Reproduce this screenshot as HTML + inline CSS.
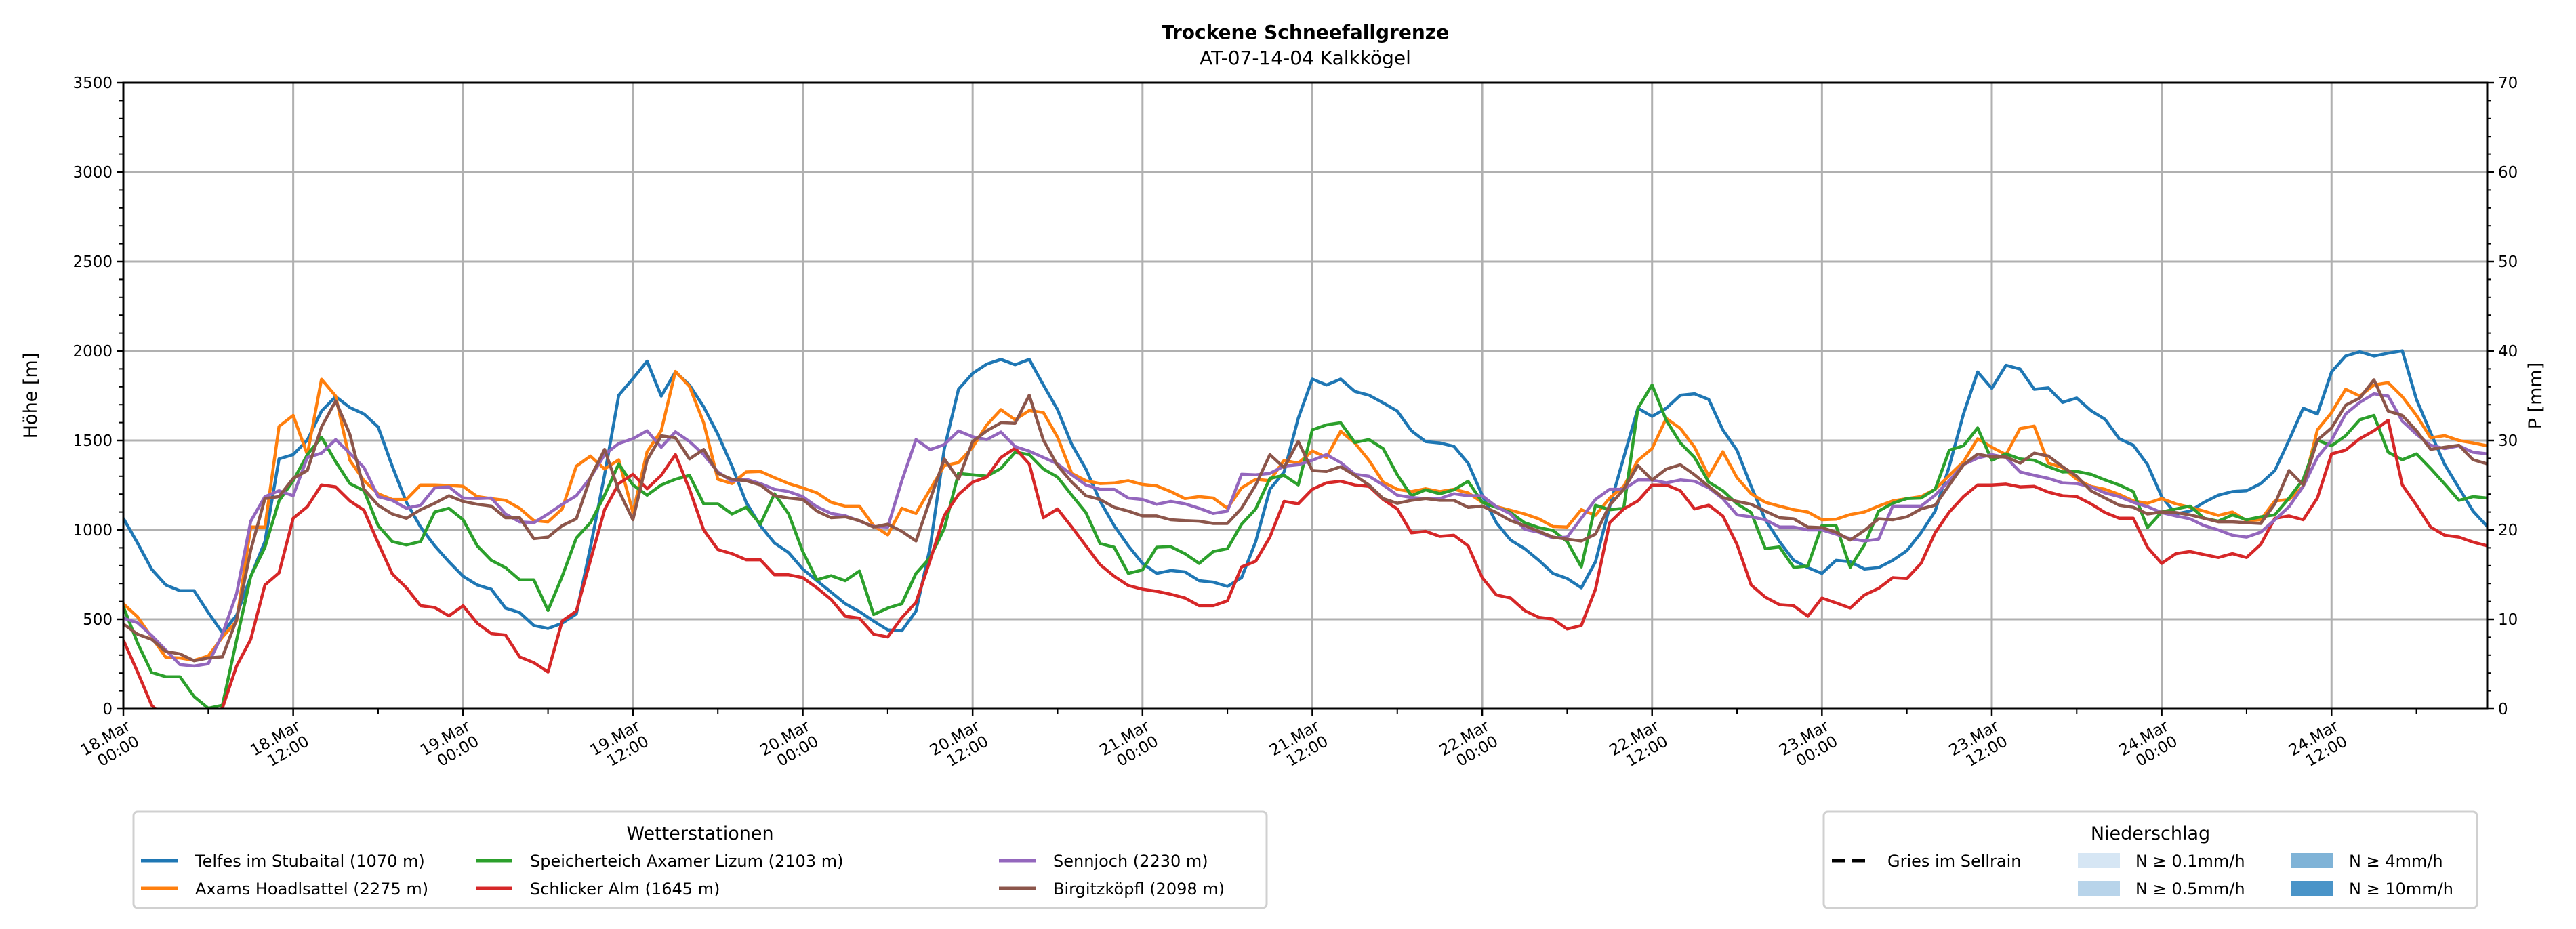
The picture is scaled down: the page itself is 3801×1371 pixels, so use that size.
<!DOCTYPE html>
<html><head><meta charset="utf-8"><style>
html,body{margin:0;padding:0;background:#fff}
svg{display:block;font-family:"DejaVu Sans","Liberation Sans",sans-serif}
</style></head><body>
<svg id="chart" width="3801" height="1371" viewBox="0 0 3801 1371" xmlns="http://www.w3.org/2000/svg">
<rect x="0" y="0" width="3801" height="1371" fill="#fff"/>
<text x="1926" y="57" font-size="28" font-weight="bold" text-anchor="middle">Trockene Schneefallgrenze</text>
<text x="1926" y="95" font-size="28" text-anchor="middle">AT-07-14-04 Kalkkögel</text>
<g id="grid"></g>
<g id="series"></g>
<g id="axes"></g>
<text transform="translate(54,584) rotate(-90)" font-size="27" text-anchor="middle">Höhe [m]</text>
<text transform="translate(3750,584) rotate(-90)" font-size="27" text-anchor="middle">P [mm]</text>

<g>
<rect x="197" y="1198" width="1672" height="142" rx="6" fill="#fff" stroke="#d0d0d0" stroke-width="3"/>
<text x="1033" y="1239" font-size="27" text-anchor="middle">Wetterstationen</text>
<g><line x1="208" y1="1270" x2="262" y2="1270" stroke="#1f77b4" stroke-width="5"/><text x="288" y="1279" font-size="24">Telfes im Stubaital (1070 m)</text></g>
<g><line x1="208" y1="1311" x2="262" y2="1311" stroke="#ff7f0e" stroke-width="5"/><text x="288" y="1320" font-size="24">Axams Hoadlsattel (2275 m)</text></g>
<g><line x1="703" y1="1270" x2="756" y2="1270" stroke="#2ca02c" stroke-width="5"/><text x="782" y="1279" font-size="24">Speicherteich Axamer Lizum (2103 m)</text></g>
<g><line x1="703" y1="1311" x2="756" y2="1311" stroke="#d62728" stroke-width="5"/><text x="782" y="1320" font-size="24">Schlicker Alm (1645 m)</text></g>
<g><line x1="1474" y1="1270" x2="1528" y2="1270" stroke="#9467bd" stroke-width="5"/><text x="1554" y="1279" font-size="24">Sennjoch (2230 m)</text></g>
<g><line x1="1474" y1="1311" x2="1528" y2="1311" stroke="#8c564b" stroke-width="5"/><text x="1554" y="1320" font-size="24">Birgitzköpfl (2098 m)</text></g>
</g>

<g>
<rect x="2691" y="1198" width="964" height="142" rx="6" fill="#fff" stroke="#d0d0d0" stroke-width="3"/>
<text x="3173" y="1239" font-size="27" text-anchor="middle">Niederschlag</text>
<g><line x1="2703" y1="1270" x2="2760" y2="1270" stroke="#000" stroke-width="5" stroke-dasharray="20,9"/><text x="2785" y="1279" font-size="24">Gries im Sellrain</text></g>
<g><rect x="3066" y="1259" width="62" height="22" fill="#d6e6f4"/><text x="3151" y="1279" font-size="24">N ≥ 0.1mm/h</text></g>
<g><rect x="3066" y="1300" width="62" height="22" fill="#b8d4ea"/><text x="3151" y="1320" font-size="24">N ≥ 0.5mm/h</text></g>
<g><rect x="3381" y="1259" width="62" height="22" fill="#7fb3d7"/><text x="3466" y="1279" font-size="24">N ≥ 4mm/h</text></g>
<g><rect x="3381" y="1300" width="62" height="22" fill="#4a94c8"/><text x="3466" y="1320" font-size="24">N ≥ 10mm/h</text></g>
</g>
</svg>
<script>
const xTickDays = ["18.Mar","18.Mar","19.Mar","19.Mar","20.Mar","20.Mar","21.Mar","21.Mar","22.Mar","22.Mar","23.Mar","23.Mar","24.Mar","24.Mar"];
const xTickTimes = ["00:00","12:00","00:00","12:00","00:00","12:00","00:00","12:00","00:00","12:00","00:00","12:00","00:00","12:00"];
const yTicks = [0,500,1000,1500,2000,2500,3000,3500];
const y2Ticks = [0,10,20,30,40,50,60,70];
const seriesNames = ["telfes","axams","speicherteich","schlicker","sennjoch","birgitzkoepfl"];
const seriesColors = ["#1f77b4","#ff7f0e","#2ca02c","#d62728","#9467bd","#8c564b"];
const telfes = [1065,927,780,692,660,660,538,425,522,740,935,1397,1421,1502,1664,1745,1684,1648,1575,1356,1154,1016,911,822,741,692,668,563,538,465,449,478,530,903,1308,1753,1846,1943,1748,1883,1810,1688,
1535,1356,1154,1024,927,873,781,716,652,587,543,490,441,436,546,903,1454,1786,1875,1927,1953,1923,1953,1810,1672,1478,1340,1162,1024,911,813,757,773,765,716,708,684,733,935,1227,1324,1624,
1843,1810,1843,1774,1753,1710,1664,1554,1494,1486,1467,1373,1194,1040,943,895,830,757,728,676,822,1130,1405,1680,1635,1680,1753,1761,1729,1559,1445,1243,1057,935,830,789,757,830,822,781,789,
830,884,984,1105,1356,1648,1883,1791,1920,1899,1786,1794,1713,1737,1667,1618,1510,1473,1365,1186,1089,1105,1154,1194,1214,1219,1259,1332,1502,1680,1648,1883,1972,1996,1972,1988,2001,1729,1543,1365,1235,1105,1019];
const axams = [587,514,400,287,284,271,295,400,490,1016,1016,1578,1640,1421,1842,1748,1389,1275,1202,1170,1170,1251,1251,1248,1243,1186,1175,1165,1121,1052,1045,1117,1356,1413,1340,1392,1097,1437,1554,1886,1802,1599,
1283,1259,1324,1327,1292,1259,1235,1207,1154,1133,1133,1024,972,1121,1092,1227,1360,1376,1462,1587,1672,1616,1667,1656,1518,1316,1275,1259,1262,1275,1254,1246,1214,1175,1186,1178,1121,1235,1283,1275,1389,1373,
1441,1405,1551,1486,1389,1267,1227,1214,1230,1214,1227,1207,1154,1130,1110,1089,1062,1019,1016,1113,1081,1178,1243,1389,1454,1624,1567,1462,1300,1437,1292,1202,1154,1133,1113,1100,1057,1060,1086,1100,1133,
1162,1175,1186,1227,1305,1381,1510,1462,1421,1567,1580,1373,1348,1283,1243,1227,1198,1162,1149,1175,1146,1126,1105,1081,1100,1052,1057,1162,1170,1243,1559,1656,1786,1748,1810,1823,1745,1640,1515,1527,1500,1486,1470];
const speicherteich = [571,368,203,179,179,68,3,20,384,740,903,1162,1275,1421,1518,1381,1259,1219,1024,935,916,935,1100,1121,1057,911,830,789,721,721,550,740,955,1040,1194,1369,1251,1194,1251,1283,1305,1146,
1146,1089,1126,1032,1202,1089,879,721,744,716,770,527,563,587,757,846,1008,1316,1308,1300,1343,1434,1421,1340,1295,1194,1097,924,903,757,776,903,906,867,813,879,895,1032,1117,1288,1305,1251,
1559,1587,1599,1489,1505,1454,1308,1191,1224,1202,1224,1272,1154,1126,1097,1040,1013,997,935,793,1138,1113,1121,1680,1810,1613,1486,1405,1267,1219,1146,1097,895,905,791,798,1024,1024,791,916,1105,
1149,1175,1178,1227,1446,1470,1570,1389,1425,1397,1389,1353,1324,1327,1311,1279,1251,1214,1013,1100,1117,1133,1065,1049,1084,1057,1073,1084,1178,1283,1502,1470,1527,1616,1640,1434,1392,1425,1343,1256,1165,1186,1178];
const schlicker = [384,206,20,-60,-60,-60,-60,4,239,388,692,760,1065,1130,1251,1240,1162,1110,927,754,676,576,566,519,576,478,420,412,290,258,206,490,546,830,1113,1259,1311,1230,1305,1421,1227,1000,
890,867,833,833,749,749,733,676,611,517,506,417,401,509,595,830,1081,1198,1267,1295,1405,1457,1369,1068,1117,1016,911,806,741,689,668,657,640,619,576,576,603,793,825,960,1159,1146,
1227,1263,1272,1251,1243,1170,1117,984,992,964,970,911,733,636,619,549,511,501,446,465,668,1040,1117,1162,1251,1251,1219,1117,1138,1078,919,692,624,582,576,517,619,592,563,636,673,
733,728,813,984,1100,1186,1251,1251,1256,1240,1243,1211,1191,1186,1146,1097,1065,1065,903,813,867,879,862,846,867,846,919,1065,1078,1057,1178,1425,1446,1510,1554,1613,1251,1138,1016,970,960,932,911];
const sennjoch = [506,481,409,328,247,239,252,417,644,1049,1186,1219,1191,1405,1429,1505,1429,1348,1186,1165,1121,1138,1235,1240,1178,1175,1178,1089,1045,1040,1089,1143,1191,1292,1421,1483,1510,1554,1462,1548,1494,1421,
1324,1272,1283,1259,1227,1214,1186,1129,1092,1079,1050,1019,1016,1275,1505,1449,1477,1553,1521,1505,1547,1466,1440,1405,1369,1308,1251,1227,1227,1178,1170,1143,1159,1146,1121,1092,1105,1311,1308,1316,1356,1364,
1389,1421,1376,1311,1300,1251,1194,1181,1175,1175,1202,1191,1191,1130,1089,1003,987,955,960,1065,1170,1227,1227,1279,1279,1263,1279,1272,1235,1175,1084,1073,1057,1016,1016,1000,1000,976,951,938,948,
1133,1133,1133,1194,1275,1365,1402,1421,1405,1324,1305,1288,1263,1259,1240,1207,1186,1154,1130,1097,1078,1062,1024,1000,970,960,987,1057,1130,1243,1405,1502,1648,1713,1761,1748,1608,1535,1473,1454,1470,1434,1425];
const birgitzkoepfl = [474,417,388,320,307,268,284,290,498,887,1175,1186,1288,1332,1575,1721,1535,1227,1138,1089,1065,1113,1149,1191,1159,1143,1133,1068,1068,951,960,1024,1062,1292,1450,1219,1057,1389,1526,1515,1397,1450,
1316,1283,1275,1251,1191,1178,1170,1105,1068,1073,1052,1016,1032,992,938,1170,1397,1283,1494,1554,1599,1596,1753,1502,1360,1267,1191,1170,1126,1105,1078,1078,1057,1052,1049,1036,1036,1121,1251,1421,1348,1494,
1332,1327,1353,1305,1251,1175,1149,1165,1175,1165,1165,1126,1133,1097,1052,1024,992,960,948,938,976,1138,1227,1360,1279,1340,1364,1308,1243,1181,1159,1143,1105,1068,1062,1016,1013,987,943,997,1062,
1057,1073,1117,1138,1251,1364,1424,1408,1408,1373,1429,1413,1353,1300,1219,1178,1138,1126,1089,1100,1097,1084,1065,1045,1045,1040,1036,1146,1332,1251,1502,1570,1697,1737,1839,1664,1640,1554,1450,1462,1473,1392,1369];

const NS="http://www.w3.org/2000/svg";
const L=182,R=3670,T=122,B=1046,HOURS=167,YMAX=3500,Y2MAX=70;
const xs=h=>L+(R-L)*h/HOURS;
const ys=v=>B-(B-T)*v/YMAX;
const y2s=v=>B-(B-T)*v/Y2MAX;
function mk(tag,attrs,parent){const e=document.createElementNS(NS,tag);for(const k in attrs)e.setAttribute(k,attrs[k]);parent.appendChild(e);return e;}
const grid=document.getElementById('grid'),axes=document.getElementById('axes'),ser=document.getElementById('series');
const defs=mk('defs',{},document.getElementById('chart'));
const cp=mk('clipPath',{id:'pc'},defs);mk('rect',{x:L,y:T,width:R-L,height:B-T},cp);
ser.setAttribute('clip-path','url(#pc)');
yTicks.forEach(v=>{const y=ys(v);
 const g=mk('line',{x1:L,x2:R,y1:y,y2:y,stroke:'#b0b0b0','stroke-width':3},grid);
 
 
 mk('line',{x1:L-10,x2:L,y1:y,y2:y,stroke:'#000','stroke-width':2.5},axes);
 const t=mk('text',{x:L-16,y:y+8,'font-size':23,'text-anchor':'end'},axes);t.textContent=v;
 
 
});
for(let v=0;v<=YMAX;v+=100){if(v%500)mk('line',{x1:L-6,x2:L,y1:ys(v),y2:ys(v),stroke:'#000','stroke-width':2},axes);}
y2Ticks.forEach(v=>{const y=y2s(v);
 mk('line',{x1:R,x2:R+10,y1:y,y2:y,stroke:'#000','stroke-width':2.5},axes);
 const t=mk('text',{x:R+16,y:y+8,'font-size':23,'text-anchor':'start'},axes);t.textContent=v;
 
 
});
for(let v=0;v<=Y2MAX;v+=2){if(v%10)mk('line',{x1:R,x2:R+6,y1:y2s(v),y2:y2s(v),stroke:'#000','stroke-width':2},axes);}
xTickDays.forEach((d,i)=>{const x=xs(i*12);
 const g=mk('line',{x1:x,x2:x,y1:T,y2:B,stroke:'#b0b0b0','stroke-width':3},grid);
 
 
 mk('line',{x1:x,x2:x,y1:B,y2:B+11,stroke:'#000','stroke-width':2.5},axes);
 const t=mk('text',{transform:`translate(${x+12},${B+30}) rotate(-30)`,'font-size':23,'text-anchor':'end'},axes);
 
 
 const a=mk('tspan',{x:0,dy:0},t);a.textContent=d;
 const b=mk('tspan',{x:0,dy:26},t);b.textContent=xTickTimes[i];
});
for(let h=6;h<=HOURS;h+=12)mk('line',{x1:xs(h),x2:xs(h),y1:B,y2:B+7,stroke:'#000','stroke-width':2},axes);
[telfes,axams,speicherteich,schlicker,sennjoch,birgitzkoepfl].forEach((arr,i)=>{
 const p=mk('polyline',{points:arr.map((v,h)=>xs(h).toFixed(1)+','+ys(v).toFixed(1)).join(' '),fill:'none',stroke:seriesColors[i],'stroke-width':4.5,'stroke-linejoin':'round'},ser);
 
 
});
const fr=mk('rect',{x:L,y:T,width:R-L,height:B-T,fill:'none',stroke:'#000','stroke-width':3},axes);


</script>
</body></html>
